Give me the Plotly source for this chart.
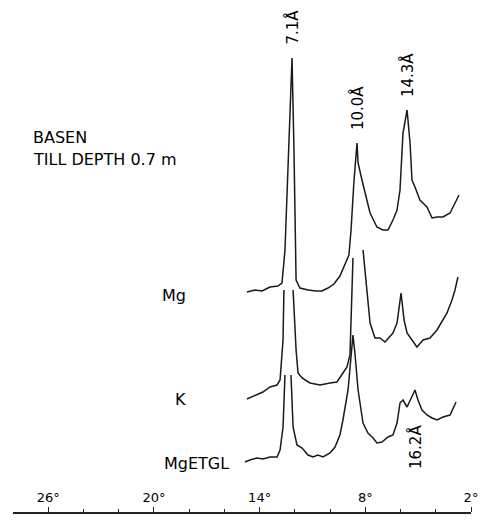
import plotly.graph_objects as go

# ---- data (2-theta degrees, stacked relative intensity) ----
mg_2theta = [14.72, 14.26, 13.86, 13.41, 12.96, 12.73, 12.56, 12.33, 12.16, 12.05, 11.99, 11.93,
             11.71, 11.25, 10.80, 10.46, 10.12, 9.78, 9.44, 9.15, 8.93, 8.81, 8.64, 8.47, 8.41,
             8.19, 7.90, 7.73, 7.34, 7.00, 6.71, 6.43, 6.20, 6.03, 5.86, 5.63, 5.46, 5.35, 5.18,
             4.90, 4.50, 4.21, 3.93, 3.59, 3.19, 2.91, 2.68]
mg_int = [229, 231, 230, 234, 235, 238, 271, 371, 463, 371, 271, 241,
          233, 231, 230, 230, 233, 237, 245, 256, 266, 291, 341, 378, 358,
          341, 321, 308, 294, 291, 291, 301, 311, 331, 388, 411, 378, 341, 334,
          321, 314, 303, 304, 304, 308, 318, 326]

k_2theta = [14.72, 14.15, 13.81, 13.41, 13.01, 12.84, 12.67, 12.62, None, 12.10, 11.93, 11.82,
            11.59, 11.14, 10.57, 10.00, 9.61, 9.27, 9.04, 8.87, 8.76, 8.70, None, 8.13, 7.90,
            7.73, 7.45, 7.17, 6.88, 6.60, 6.43, 6.20, 5.97, 5.80, 5.63, 5.35, 5.07, 4.72,
            4.33, 3.93, 3.65, 3.36, 3.08, 2.91, 2.74]
k_int = [122, 126, 129, 134, 136, 141, 181, 231, None, 231, 171, 148,
         143, 138, 136, 138, 139, 148, 154, 166, 221, 263, None, 271, 224,
         198, 183, 183, 179, 184, 188, 198, 228, 201, 188, 181, 174, 181,
         183, 191, 199, 208, 221, 231, 244]

eg_2theta = [14.83, 14.55, 14.15, 13.81, 13.41, 13.01, 12.84, 12.67, 12.56, None, 12.22, 12.10,
             11.88, 11.59, 11.25, 10.97, 10.69, 10.40, 10.00, 9.72, 9.44, 9.27, 8.98, 8.81,
             8.70, 8.59, 8.41, 8.13, 7.85, 7.56, 7.34, 7.05, 6.71, 6.43, 6.20, 6.03, 5.86,
             5.63, 5.35, 5.18, 5.01, 4.78, 4.50, 4.21, 3.93, 3.59, 3.19, 2.85]
eg_int = [59, 61, 63, 62, 64, 64, 71, 94, 146, None, 146, 94,
          76, 73, 66, 64, 66, 64, 68, 74, 86, 101, 131, 168,
          186, 168, 131, 98, 88, 83, 78, 79, 84, 86, 98, 118, 121,
          114, 124, 131, 121, 111, 106, 103, 101, 104, 106, 119]

series_names = ["Mg", "K", "MgETGL"]
tick_vals = [26, 20, 14, 8, 2]
tick_text = ["26°", "20°", "14°", "8°", "2°"]
title_lines = ["BASEN", "TILL DEPTH 0.7 m"]
# (label, series, approx 2-theta of peak, above/below)
peak_labels = [("7.1Å", "Mg", 12.16, "above"), ("10.0Å", "Mg", 8.47, "above"),
               ("14.3Å", "Mg", 5.63, "above"), ("16.2Å", "MgETGL", 5.18, "below")]

W, H = 488, 521
LINE = "#1a1a1a"
FONT = "DejaVu Sans"

series = {"Mg": (mg_2theta, mg_int), "K": (k_2theta, k_int), "MgETGL": (eg_2theta, eg_int)}

fig = go.Figure()
for name in series_names:
    xs, ys = series[name]
    fig.add_trace(go.Scatter(x=xs, y=ys, mode="lines", name=name,
                             line=dict(color=LINE, width=1.5), connectgaps=False,
                             showlegend=False, hoverinfo="skip"))

def px_x(p):
    return p / W

def px_y(p):
    return 1 - p / H

annotations = []
# title
for txt, py in zip(title_lines, [137.5, 159]):
    annotations.append(dict(text=txt, xref="paper", yref="paper", x=px_x(31), y=px_y(py),
                            xanchor="left", yanchor="middle", showarrow=False,
                            font=dict(family=FONT, size=16, color="#000")))
# series labels
for name, (rx, py) in zip(series_names, [(188, 295), (188, 399), (231, 463)]):
    annotations.append(dict(text=name, xref="paper", yref="paper", x=px_x(rx), y=px_y(py),
                            xanchor="right", yanchor="middle", showarrow=False,
                            font=dict(family=FONT, size=16, color="#000")))
# peak labels
for txt, sname, pos, where in peak_labels:
    xs, ys = series[sname]
    best = min((i for i, v in enumerate(xs) if v is not None), key=lambda i: abs(xs[i] - pos))
    px_, py_ = xs[best], ys[best]
    if where == "above":
        annotations.append(dict(text=txt, x=px_, y=py_, xref="x", yref="y", textangle=-90,
                                xanchor="center", yanchor="bottom", yshift=11, showarrow=False,
                                font=dict(family=FONT, size=15, color="#000")))
    else:
        annotations.append(dict(text=txt, x=px_, y=py_, xref="x", yref="y", textangle=-90,
                                xanchor="center", yanchor="top", yshift=-33, showarrow=False,
                                font=dict(family=FONT, size=15, color="#000")))

fig.update_layout(
    width=W, height=H,
    margin=dict(l=0, r=0, t=0, b=0, autoexpand=False),
    paper_bgcolor="white", plot_bgcolor="white",
    xaxis=dict(domain=[13 / W, 471 / W], range=[28, 2], anchor="free", position=8 / H,
               side="top", showline=True, linecolor="#222", linewidth=1.5,
               ticks="outside", ticklen=5, tickwidth=1.2, tickcolor="#222",
               tickvals=tick_vals, ticktext=tick_text, showgrid=False, zeroline=False,
               tickfont=dict(family=FONT, size=13, color="#000"),
               minor=dict(tickvals=list(range(2, 28, 2)), ticks="outside", ticklen=3,
                          tickcolor="#222", showgrid=False),
               fixedrange=True),
    yaxis=dict(domain=[0, 1], range=[0, H], visible=False, fixedrange=True),
    annotations=annotations,
)

fig.write_html("out.html", config={"displayModeBar": False},
               post_script="document.body.style.margin='0px';")
